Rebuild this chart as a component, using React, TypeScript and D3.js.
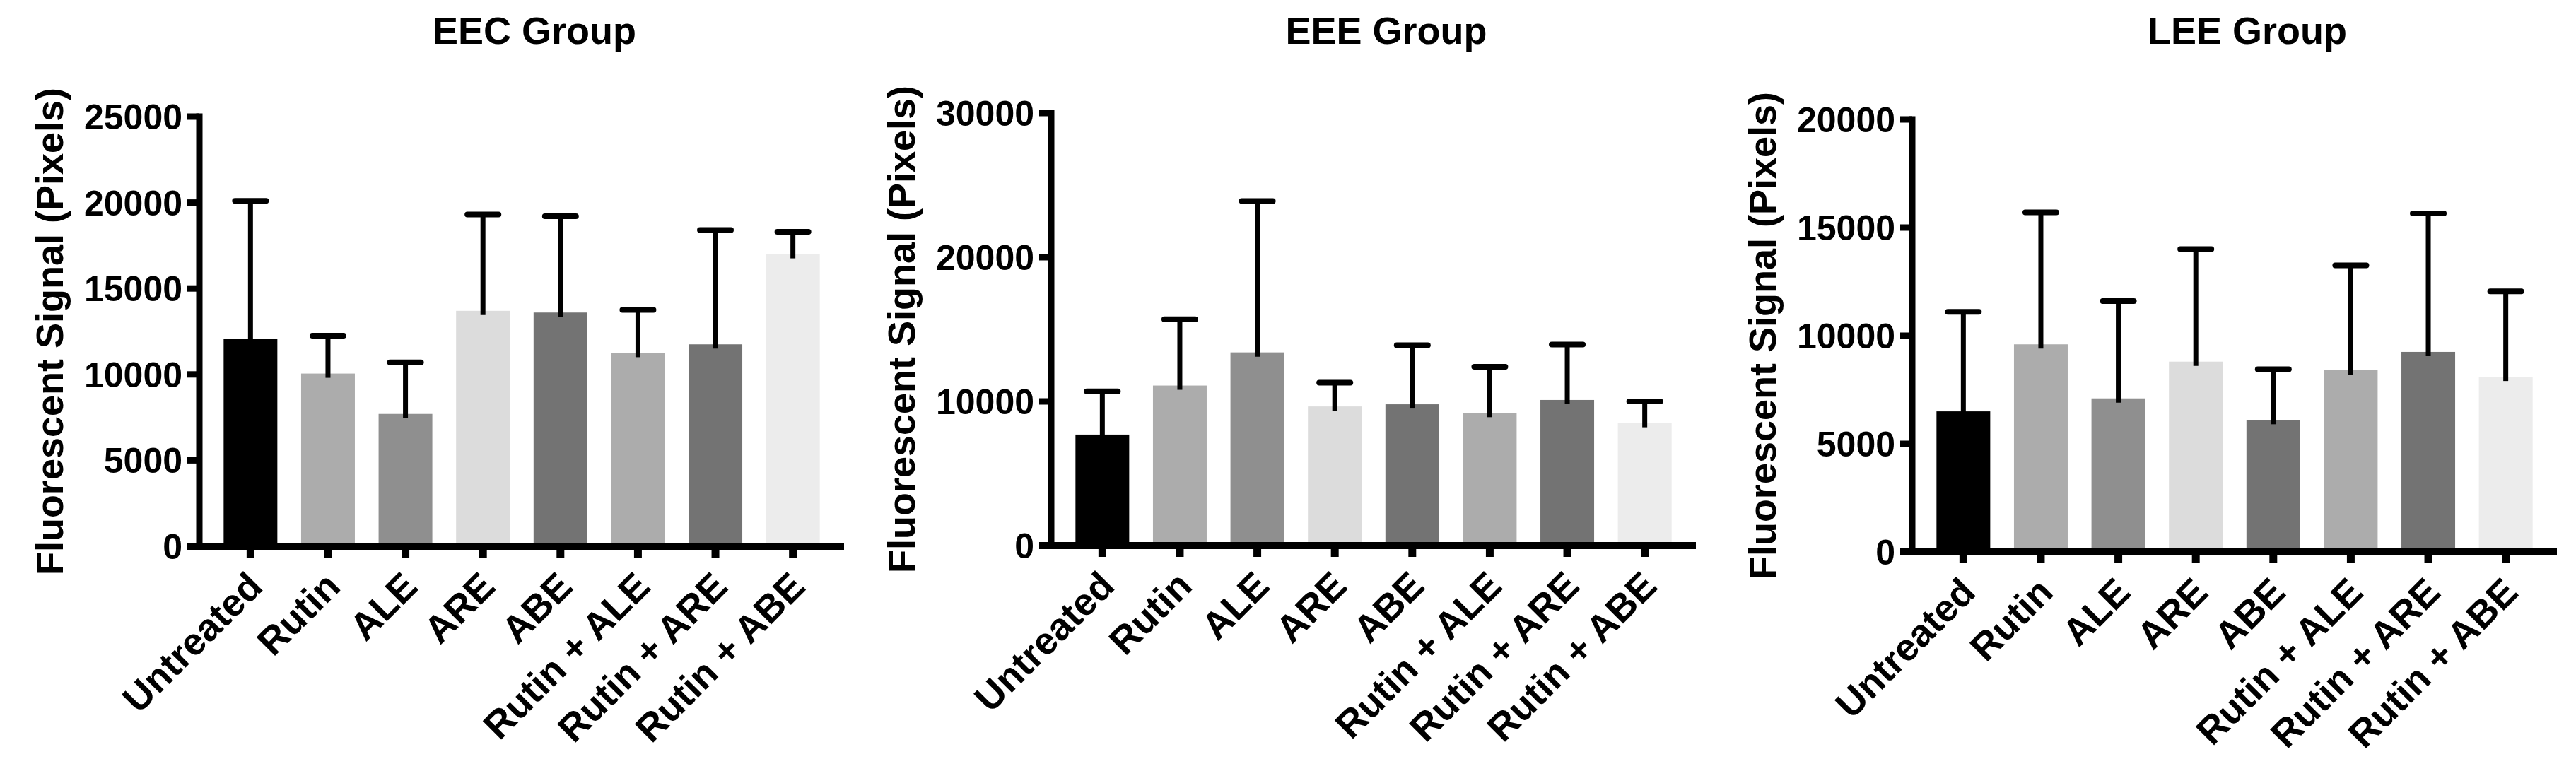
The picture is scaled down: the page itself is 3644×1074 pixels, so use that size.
import * as d3 from "d3";

const CATEGORIES = [
  "Untreated",
  "Rutin",
  "ALE",
  "ARE",
  "ABE",
  "Rutin + ALE",
  "Rutin + ARE",
  "Rutin + ABE",
];

const BAR_COLORS = ["#000000", "#acacac", "#8f8f8f", "#dcdcdc", "#737373", "#acacac", "#737373", "#ececec"];

const EEC_MEANS = [12050, 10050, 7700, 13700, 13600, 11250, 11750, 17000];
const EEC_UPPER = [20100, 12250, 10700, 19300, 19200, 13750, 18400, 18300];
const EEC_TICKS = [0, 5000, 10000, 15000, 20000, 25000];

const EEE_MEANS = [7700, 11100, 13400, 9650, 9800, 9200, 10100, 8500];
const EEE_UPPER = [10700, 15700, 23900, 11300, 13900, 12400, 13950, 10000];
const EEE_TICKS = [0, 10000, 20000, 30000];

const LEE_MEANS = [6500, 9600, 7100, 8800, 6100, 8400, 9250, 8100];
const LEE_UPPER = [11100, 15700, 11600, 14000, 8450, 13250, 15650, 12050];
const LEE_TICKS = [0, 5000, 10000, 15000, 20000];

const Y_LABEL = "Fluorescent Signal (Pixels)";
const FONT = "'Liberation Sans', Arial, sans-serif";

interface PanelProps {
  title: string;
  means: number[];
  upper: number[];
  ticks: number[];
  x0: number;
  top: number;
  zero: number;
}

const PLOT_W = 912;

function Panel({ title, means, upper, ticks, x0, top, zero }: PanelProps) {
  const yMax = ticks[ticks.length - 1];
  const y = d3.scaleLinear().domain([0, yMax]).range([zero, top]);
  const x = d3.scalePoint<string>().domain(CATEGORIES).range([x0, x0 + PLOT_W]).padding(0.66);
  const barW = 76;
  const capW = 44;

  return (
    <g>
      <text
        x={x0 + PLOT_W / 2 + 18}
        y={62}
        textAnchor="middle"
        fontFamily={FONT}
        fontWeight="bold"
        fontSize={54}
      >
        {title}
      </text>
      <text
        transform={`translate(${x0 - 193},${(top + zero) / 2}) rotate(-90)`}
        textAnchor="middle"
        fontFamily={FONT}
        fontWeight="bold"
        fontSize={54}
      >
        {Y_LABEL}
      </text>

      {CATEGORIES.map((c, i) => {
        const cx = x(c)!;
        return (
          <g key={c}>
            <rect x={cx - barW / 2} y={y(means[i])} width={barW} height={zero - y(means[i])} fill={BAR_COLORS[i]} />
            <line x1={cx} x2={cx} y1={y(means[i]) + 6} y2={y(upper[i])} stroke="#000" strokeWidth={7} />
            <line
              x1={cx - capW / 2}
              x2={cx + capW / 2}
              y1={y(upper[i])}
              y2={y(upper[i])}
              stroke="#000"
              strokeWidth={8}
              strokeLinecap="round"
            />
          </g>
        );
      })}

      {/* y axis */}
      <line x1={x0} x2={x0} y1={top - 4.5} y2={zero + 4.5} stroke="#000" strokeWidth={9} />
      {ticks.map((t) => (
        <g key={t}>
          <line x1={x0 - 17} x2={x0} y1={y(t)} y2={y(t)} stroke="#000" strokeWidth={9} />
          <text
            x={x0 - 24}
            y={y(t)}
            dy="0.36em"
            textAnchor="end"
            fontFamily={FONT}
            fontWeight="bold"
            fontSize={50}
          >
            {t}
          </text>
        </g>
      ))}

      {/* x axis */}
      <line x1={x0 - 17} x2={x0 + PLOT_W} y1={zero} y2={zero} stroke="#000" strokeWidth={10} />
      {CATEGORIES.map((c) => {
        const cx = x(c)!;
        return (
          <g key={`t-${c}`}>
            <line x1={cx} x2={cx} y1={zero} y2={zero + 16} stroke="#000" strokeWidth={11} />
            <text
              transform={`translate(${cx + 20},${zero + 60}) rotate(-45)`}
              textAnchor="end"
              fontFamily={FONT}
              fontWeight="bold"
              fontSize={54}
            >
              {c}
            </text>
          </g>
        );
      })}
    </g>
  );
}

export default function App() {
  return (
    <div style={{ position: "absolute", left: 0, top: 0 }}>
      <svg width={3644} height={1074} style={{ display: "block", background: "#fff" }}>
        <Panel title="EEC Group" means={EEC_MEANS} upper={EEC_UPPER} ticks={EEC_TICKS} x0={282} top={165} zero={773} />
        <Panel title="EEE Group" means={EEE_MEANS} upper={EEE_UPPER} ticks={EEE_TICKS} x0={1487} top={160} zero={772} />
        <Panel title="LEE Group" means={LEE_MEANS} upper={LEE_UPPER} ticks={LEE_TICKS} x0={2705} top={169} zero={781} />
      </svg>
    </div>
  );
}
